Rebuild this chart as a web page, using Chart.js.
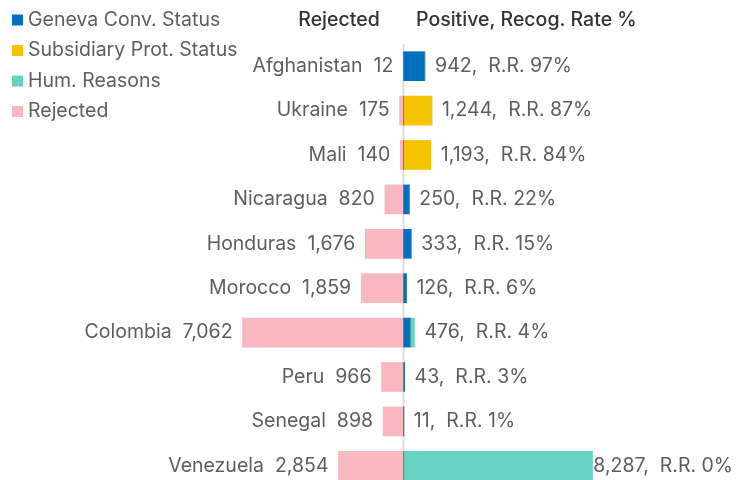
<!DOCTYPE html>
<html>
<head>
<meta charset="utf-8">
<script src="https://cdn.jsdelivr.net/npm/chart.js@4/dist/chart.umd.min.js"></script>
<style>
  html, body { margin: 0; padding: 0; background: #fff; overflow: hidden; }
  #wrap { position: relative; width: 736px; height: 500px; }
</style>
</head>
<body>
<div id="wrap"><canvas id="asylumChart"></canvas></div>
<script>
const countries = ['Afghanistan', 'Ukraine', 'Mali', 'Nicaragua', 'Honduras', 'Morocco', 'Colombia', 'Peru', 'Senegal', 'Venezuela'];
const geneva = [915, 0, 0, 250, 333, 126, 295, 43, 11, 0];
const subsidiary = [27, 1244, 1193, 0, 0, 0, 0, 0, 0, 0];
const humReasons = [0, 0, 0, 0, 0, 0, 181, 0, 0, 8287];
const rejected = [12, 175, 140, 820, 1676, 1859, 7062, 966, 898, 2854];
const positiveTotal = [942, 1244, 1193, 250, 333, 126, 476, 43, 11, 8287];
const recogRate = [97, 87, 84, 22, 15, 6, 4, 3, 1, 0];

const FONT = 'Inter, "Noto Sans", sans-serif';
const fmt = n => n.toLocaleString('en-US');

const labelsPlugin = {
    id: 'rowLabels',
    beforeDatasetsDraw: (chart) => {
        const ctx = chart.ctx;
        const x0 = chart.scales.x.getPixelForValue(0);
        ctx.save();
        ctx.strokeStyle = '#dddddd';
        ctx.lineWidth = 2;
        ctx.beginPath();
        ctx.moveTo(x0, chart.chartArea.top);
        ctx.lineTo(x0, chart.chartArea.bottom);
        ctx.stroke();
        ctx.restore();
    },
    afterDraw: (chart) => {
        const ctx = chart.ctx;
        const xs = chart.scales.x;
        const ys = chart.scales.y;
        ctx.save();
        ctx.textBaseline = 'middle';
        ctx.font = '19.5px ' + FONT;
        ctx.fillStyle = '#5e5e5e';
        countries.forEach((c, i) => {
            const y = ys.getPixelForValue(i);
            ctx.textAlign = 'right';
            ctx.fillText(`${c}  ${fmt(rejected[i])}`, xs.getPixelForValue(-rejected[i]) - 10, y);
            // right label, kept inside the canvas
            const txt = `${fmt(positiveTotal[i])},  R.R. ${recogRate[i]}%`;
            const w = ctx.measureText(txt).width;
            const x = Math.min(xs.getPixelForValue(positiveTotal[i]) + 10, chart.width - w - 3);
            ctx.textAlign = 'left';
            ctx.fillText(txt, x, y);
        });

        // headers
        ctx.fillStyle = '#333333';
        ctx.font = '500 19.5px ' + FONT;
        ctx.textAlign = 'center';
        ctx.fillText('Rejected', 339, 20);
        ctx.textAlign = 'left';
        ctx.fillText('Positive, Recog. Rate %', 416, 20);

        // legend
        ctx.font = '19.5px ' + FONT;
        chart.data.datasets.forEach((ds, i) => {
            const ly = 20 + i * 30.5;
            ctx.fillStyle = ds.backgroundColor;
            ctx.fillRect(12, ly - 5.5, 11, 11);
            ctx.fillStyle = '#5e5e5e';
            ctx.fillText(ds.label, 28, ly);
        });
        ctx.restore();
    }
};

document.addEventListener('DOMContentLoaded', function () {
    const data = {
        labels: countries,
        datasets: [
            { label: 'Geneva Conv. Status', data: geneva, backgroundColor: '#0070c0' },
            { label: 'Subsidiary Prot. Status', data: subsidiary, backgroundColor: '#f6c300' },
            { label: 'Hum. Reasons', data: humReasons, backgroundColor: '#66d2c2' },
            { label: 'Rejected', data: rejected.map(v => -v), backgroundColor: '#f8b8c0' }
        ]
    };

    new Chart(document.getElementById('asylumChart'), {
        type: 'bar',
        data: data,
        options: {
            indexAxis: 'y',
            responsive: true,
            maintainAspectRatio: false,
            animation: false,
            layout: { padding: { top: 44, bottom: 12, left: 0, right: 0 } },
            datasets: { bar: { barThickness: 29, borderWidth: 0 } },
            scales: {
                x: { stacked: true, min: -17700, max: 14580, display: false },
                y: { stacked: true, display: false }
            },
            plugins: {
                legend: { display: false },
                tooltip: { enabled: false }
            }
        },
        plugins: [labelsPlugin]
    });
});
</script>
</body>
</html>
